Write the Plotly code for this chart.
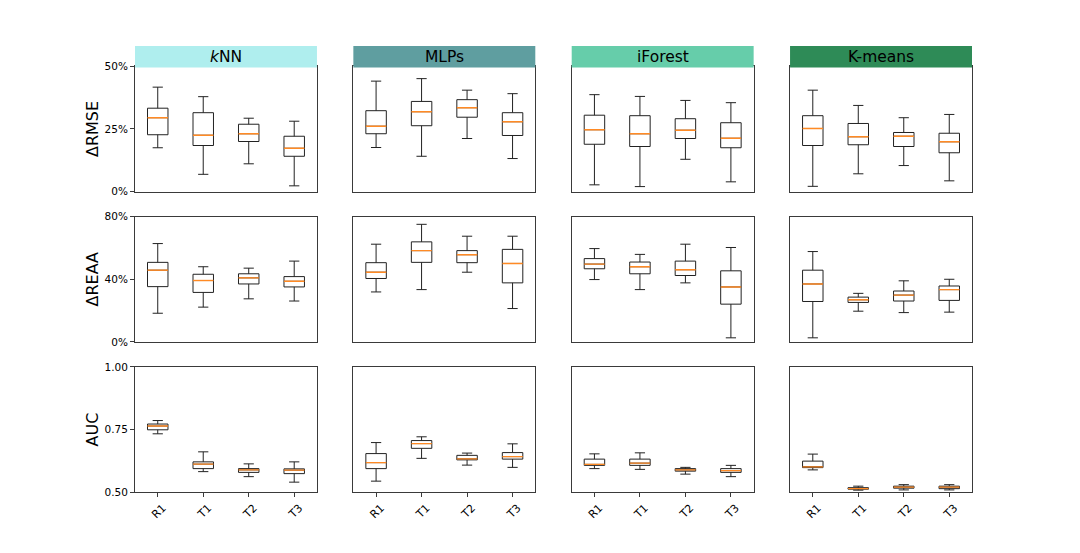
import plotly.graph_objects as go

# ---------------- data ----------------
models = ["<i>k</i>NN", "MLPs", "iForest", "K-means"]
header_colors = ["#AFEEEE", "#5F9EA0", "#66CDAA", "#2E8B57"]
settings = ["R1", "T1", "T2", "T3"]
positions = [1, 2, 3, 4]
metrics = ["ΔRMSE", "ΔREAA", "AUC"]

# ΔRMSE (%), one inner list per model (kNN, MLPs, iForest, K-means), values for R1,T1,T2,T3
rmse_lo = [[17.5, 6.9, 11.1, 2.3], [17.6, 14.1, 21.2, 13.2], [2.7, 2.0, 12.9, 3.9], [2.1, 7.1, 10.4, 4.3]]
rmse_q1 = [[22.7, 18.4, 20.0, 14.1], [23.1, 26.3, 29.7, 22.4], [18.9, 18.0, 21.2, 17.5], [18.4, 18.7, 18.0, 15.5]]
rmse_med = [[29.5, 22.5, 23.1, 17.3], [26.1, 31.9, 33.5, 27.9], [24.7, 23.1, 24.5, 21.3], [25.2, 21.9, 22.1, 19.9]]
rmse_q3 = [[33.3, 31.5, 26.9, 22.1], [32.3, 36.0, 36.7, 31.5], [30.5, 30.3, 29.1, 27.5], [30.3, 27.2, 23.6, 23.3]]
rmse_hi = [[41.7, 37.9, 29.3, 28.1], [44.1, 45.1, 40.5, 39.1], [38.7, 38.0, 36.4, 35.5], [40.5, 34.4, 29.5, 30.8]]

# ΔREAA (%)
reaa_lo = [[18.3, 22.2, 27.5, 26.1], [31.9, 33.4, 44.5, 21.3], [39.8, 33.4, 37.7, 2.6], [2.6, 19.6, 18.7, 19.0]]
reaa_q1 = [[35.3, 31.6, 37.0, 35.1], [40.5, 50.8, 50.6, 37.7], [46.7, 43.5, 42.4, 24.1], [25.8, 25.2, 26.1, 26.5]]
reaa_med = [[45.8, 39.2, 40.9, 38.7], [44.5, 58.3, 55.7, 50.1], [49.7, 48.0, 46.1, 35.1], [37.0, 26.9, 29.9, 33.4]]
reaa_q3 = [[50.8, 43.2, 43.5, 41.7], [50.6, 63.9, 58.3, 59.1], [53.2, 51.0, 51.6, 45.4], [45.8, 28.6, 32.5, 35.7]]
reaa_hi = [[62.8, 48.0, 47.1, 51.6], [62.4, 75.1, 67.5, 67.5], [59.6, 55.9, 62.4, 60.3], [57.7, 31.0, 39.0, 40.0]]

# AUC
auc_lo = [[0.733, 0.582, 0.562, 0.540], [0.544, 0.635, 0.608, 0.599], [0.594, 0.591, 0.572, 0.562], [0.589, 0.508, 0.509, 0.509]]
auc_q1 = [[0.749, 0.594, 0.579, 0.574], [0.594, 0.675, 0.629, 0.632], [0.607, 0.607, 0.584, 0.579], [0.598, 0.512, 0.516, 0.514]]
auc_med = [[0.764, 0.612, 0.589, 0.588], [0.618, 0.694, 0.633, 0.642], [0.611, 0.616, 0.589, 0.586], [0.601, 0.514, 0.520, 0.520]]
auc_q3 = [[0.772, 0.621, 0.594, 0.593], [0.654, 0.706, 0.647, 0.658], [0.632, 0.632, 0.594, 0.594], [0.624, 0.518, 0.524, 0.524]]
auc_hi = [[0.786, 0.661, 0.613, 0.621], [0.698, 0.721, 0.656, 0.693], [0.653, 0.657, 0.599, 0.607], [0.652, 0.524, 0.530, 0.530]]

y_ranges = [[0, 50], [0, 80], [0.5, 1.0]]
y_ticks = [[0, 25, 50], [0, 40, 80], [0.5, 0.75, 1.0]]
y_ticktext = [["0%", "25%", "50%"], ["0%", "40%", "80%"], ["0.50", "0.75", "1.00"]]

stats = [
    (rmse_lo, rmse_q1, rmse_med, rmse_q3, rmse_hi),
    (reaa_lo, reaa_q1, reaa_med, reaa_q3, reaa_hi),
    (auc_lo, auc_q1, auc_med, auc_q3, auc_hi),
]

# ---------------- layout geometry (matplotlib-like subplot grid) ----------------
W, H = 1080, 553
left, right, top, bottom = 0.125, 0.9, 0.88, 0.11
ncols, nrows = 4, 3
wspace, hspace = 0.2, 0.2
cw = (right - left) / (ncols + (ncols - 1) * wspace)
rh = (top - bottom) / (nrows + (nrows - 1) * hspace)

BOX_W = 0.45
BOX_COLOR = "#222222"
MED_COLOR = "#ff8a24"
SPINE = "#3a3a3a"
FONT = "DejaVu Sans"

fig = go.Figure()
layout = {}
shapes = []
annotations = []

for r in range(nrows):
    lo_a, q1_a, med_a, q3_a, hi_a = stats[r]
    y1 = top - r * rh * (1 + hspace)
    y0 = y1 - rh
    for c in range(ncols):
        idx = r * ncols + c + 1
        xname = "x" if idx == 1 else f"x{idx}"
        yname = "y" if idx == 1 else f"y{idx}"
        x0 = left + c * cw * (1 + wspace)
        x1 = x0 + cw

        fig.add_trace(go.Box(
            x=positions, q1=q1_a[c], median=med_a[c], q3=q3_a[c],
            lowerfence=lo_a[c], upperfence=hi_a[c],
            width=BOX_W, whiskerwidth=0.5, fillcolor="white",
            line=dict(color=BOX_COLOR, width=1), boxpoints=False,
            showlegend=False, xaxis=xname, yaxis=yname, hoverinfo="skip",
        ))
        mx, my = [], []
        for p, m in zip(positions, med_a[c]):
            mx += [p - BOX_W / 2, p + BOX_W / 2, None]
            my += [m, m, None]
        fig.add_trace(go.Scatter(
            x=mx, y=my, mode="lines", line=dict(color=MED_COLOR, width=1.4),
            showlegend=False, xaxis=xname, yaxis=yname, hoverinfo="skip",
        ))

        xa = dict(
            domain=[x0, x1], range=[0.5, 4.5], anchor=yname, automargin=False,
            showline=True, mirror=True, linecolor=SPINE, linewidth=1,
            showgrid=False, zeroline=False, fixedrange=True,
        )
        if r == nrows - 1:
            xa.update(tickmode="array", tickvals=positions, ticktext=settings,
                      ticks="outside", ticklen=4, tickcolor=SPINE, tickangle=-45,
                      ticklabelshift=5,
                      tickfont=dict(family=FONT, size=11, color="black"))
        else:
            xa.update(showticklabels=False, ticks="")
        ya = dict(
            domain=[y0, y1], range=y_ranges[r], anchor=xname, automargin=False,
            showline=True, mirror=True, linecolor=SPINE, linewidth=1,
            showgrid=False, zeroline=False, fixedrange=True,
        )
        if c == 0:
            ya.update(tickmode="array", tickvals=y_ticks[r], ticktext=y_ticktext[r],
                      ticks="outside", ticklen=4, tickcolor=SPINE,
                      tickfont=dict(family=FONT, size=10.5, color="black"),
                      title=dict(text=metrics[r], standoff=1,
                                 font=dict(family=FONT, size=16, color="black")))
        else:
            ya.update(showticklabels=False, ticks="")
        layout["xaxis" if idx == 1 else f"xaxis{idx}"] = xa
        layout["yaxis" if idx == 1 else f"yaxis{idx}"] = ya

        if r == 0:
            hy0 = 1 - 67.5 / H
            hy1 = 1 - 46 / H
            shapes.append(dict(type="rect", xref="paper", yref="paper",
                               x0=x0, x1=x1, y0=hy0, y1=hy1,
                               fillcolor=header_colors[c], line=dict(width=0),
                               layer="above"))
            annotations.append(dict(xref="paper", yref="paper",
                                    x=(x0 + x1) / 2, y=(hy0 + hy1) / 2,
                                    text=models[c], showarrow=False,
                                    xanchor="center", yanchor="middle",
                                    font=dict(family=FONT, size=15.5, color="black")))

fig.update_layout(
    width=W, height=H, autosize=False,
    margin=dict(l=0, r=0, t=0, b=0, pad=0),
    paper_bgcolor="white", plot_bgcolor="white",
    shapes=shapes, annotations=annotations,
    font=dict(family=FONT, color="black"),
    **layout,
)

fig.write_html("out.html", config={"displayModeBar": False},
               post_script="document.body.style.margin='0';document.body.style.overflow='hidden';")
